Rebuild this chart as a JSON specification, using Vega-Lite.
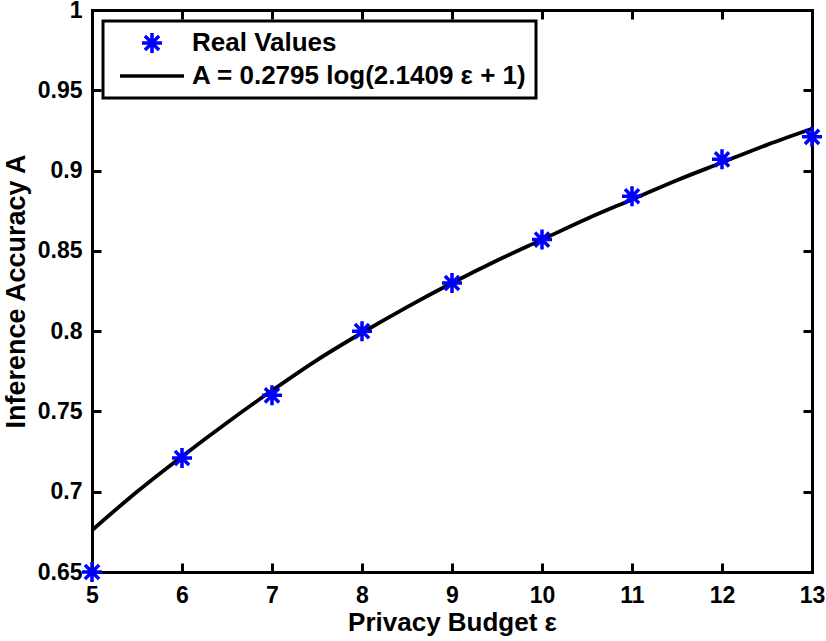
{
  "$schema": "https://vega.github.io/schema/vega-lite/v6.json",
  "autosize": {"type": "none"},
  "width": 720,
  "height": 562,
  "padding": {"left": 92, "top": 10, "right": 14, "bottom": 69},
  "background": "white",
  "config": {
    "view": {"stroke": null},
    "axis": {
      "domainColor": "black", "domainWidth": 3, "domainCap": "square",
      "tickColor": "black", "tickWidth": 3, "tickSize": -9, "ticks": true,
      "labelColor": "black", "labelFont": "Liberation Sans", "labelFontWeight": "bold", "labelFontSize": 23,
      "titleColor": "black", "titleFont": "Liberation Sans", "titleFontWeight": "bold", "titleFontSize": 26,
      "grid": false, "labelFlush": false, "labelOverlap": false, "labelBound": false
    },
    "legend": {"strokeWidth": 3, "strokeColor": "black", "fillColor": "white"}
  },
  "resolve": {"axis": {"x": "independent", "y": "independent"}},
  "layer": [
    {
      "data": {"values": [
        {"eps": 5, "fit": 0.676, "series": "A = 0.2795 log(2.1409 ε + 1)"},
        {"eps": 5.5, "fit": 0.700, "series": "A = 0.2795 log(2.1409 ε + 1)"},
        {"eps": 6, "fit": 0.722, "series": "A = 0.2795 log(2.1409 ε + 1)"},
        {"eps": 6.5, "fit": 0.743, "series": "A = 0.2795 log(2.1409 ε + 1)"},
        {"eps": 7, "fit": 0.763, "series": "A = 0.2795 log(2.1409 ε + 1)"},
        {"eps": 7.5, "fit": 0.782, "series": "A = 0.2795 log(2.1409 ε + 1)"},
        {"eps": 8, "fit": 0.799, "series": "A = 0.2795 log(2.1409 ε + 1)"},
        {"eps": 8.5, "fit": 0.815, "series": "A = 0.2795 log(2.1409 ε + 1)"},
        {"eps": 9, "fit": 0.830, "series": "A = 0.2795 log(2.1409 ε + 1)"},
        {"eps": 9.5, "fit": 0.844, "series": "A = 0.2795 log(2.1409 ε + 1)"},
        {"eps": 10, "fit": 0.857, "series": "A = 0.2795 log(2.1409 ε + 1)"},
        {"eps": 10.5, "fit": 0.870, "series": "A = 0.2795 log(2.1409 ε + 1)"},
        {"eps": 11, "fit": 0.882, "series": "A = 0.2795 log(2.1409 ε + 1)"},
        {"eps": 11.5, "fit": 0.894, "series": "A = 0.2795 log(2.1409 ε + 1)"},
        {"eps": 12, "fit": 0.905, "series": "A = 0.2795 log(2.1409 ε + 1)"},
        {"eps": 12.5, "fit": 0.916, "series": "A = 0.2795 log(2.1409 ε + 1)"},
        {"eps": 13, "fit": 0.926, "series": "A = 0.2795 log(2.1409 ε + 1)"}
      ]},
      "mark": {"type": "line", "strokeWidth": 3.8, "interpolate": "monotone"},
      "encoding": {
        "x": {"field": "eps", "type": "quantitative",
          "scale": {"domain": [5, 13], "nice": false, "zero": false},
          "axis": {"orient": "bottom", "title": "Privacy Budget ε", "values": [5, 6, 7, 8, 9, 10, 11, 12, 13], "labelPadding": 21, "titlePadding": 2}},
        "y": {"field": "fit", "type": "quantitative",
          "scale": {"domain": [0.65, 1], "nice": false, "zero": false},
          "axis": {"orient": "left", "title": "Inference Accuracy A", "values": [0.65, 0.7, 0.75, 0.8, 0.85, 0.9, 0.95, 1], "format": ".2~f", "labelPadding": 19, "titleX": -68, "titleY": 281, "titleBaseline": "alphabetic", "titleFontSize": 27}},
        "color": {"field": "series", "type": "nominal",
          "scale": {"domain": ["Real Values", "A = 0.2795 log(2.1409 ε + 1)"], "range": ["#0000ff", "#000000"]},
          "legend": {
            "orient": "none", "legendX": 11, "legendY": 11, "title": null,
            "padding": 9, "rowPadding": 3, "symbolSize": 400, "symbolOffset": 27, "labelOffset": 27,
            "symbolStrokeWidth": 3.5, "symbolFillColor": "transparent",
            "labelFont": "Liberation Sans", "labelFontWeight": "bold", "labelFontSize": 26, "labelColor": "black", "labelLimit": 500
          }}
      }
    },
    {
      "data": {"values": [
        {"eps": 5, "acc": 0.650, "series": "Real Values"},
        {"eps": 6, "acc": 0.721, "series": "Real Values"},
        {"eps": 7, "acc": 0.760, "series": "Real Values"},
        {"eps": 8, "acc": 0.800, "series": "Real Values"},
        {"eps": 9, "acc": 0.830, "series": "Real Values"},
        {"eps": 10, "acc": 0.857, "series": "Real Values"},
        {"eps": 11, "acc": 0.884, "series": "Real Values"},
        {"eps": 12, "acc": 0.907, "series": "Real Values"},
        {"eps": 13, "acc": 0.921, "series": "Real Values"}
      ]},
      "mark": {"type": "point", "filled": false, "size": 400, "strokeWidth": 3.5, "opacity": 1},
      "encoding": {
        "x": {"field": "eps", "type": "quantitative",
          "scale": {"domain": [5, 13], "nice": false, "zero": false},
          "axis": {"orient": "top", "title": null, "labels": false, "values": [5, 6, 7, 8, 9, 10, 11, 12, 13]}},
        "y": {"field": "acc", "type": "quantitative",
          "scale": {"domain": [0.65, 1], "nice": false, "zero": false},
          "axis": {"orient": "right", "title": null, "labels": false, "values": [0.65, 0.7, 0.75, 0.8, 0.85, 0.9, 0.95, 1]}},
        "color": {"field": "series", "type": "nominal"},
        "shape": {"field": "series", "type": "nominal",
          "scale": {"domain": ["Real Values", "A = 0.2795 log(2.1409 ε + 1)"], "range": ["M0,-1L0,1M-1,0L1,0M-0.7071,-0.7071L0.7071,0.7071M-0.7071,0.7071L0.7071,-0.7071", "M-3.2,0L3.2,0"]},
          "legend": {
            "orient": "none", "legendX": 11, "legendY": 11, "title": null,
            "padding": 9, "rowPadding": 3, "symbolSize": 400, "symbolOffset": 27, "labelOffset": 27,
            "symbolStrokeWidth": 3.5, "symbolFillColor": "transparent",
            "labelFont": "Liberation Sans", "labelFontWeight": "bold", "labelFontSize": 26, "labelColor": "black", "labelLimit": 500
          }}
      }
    }
  ]
}
